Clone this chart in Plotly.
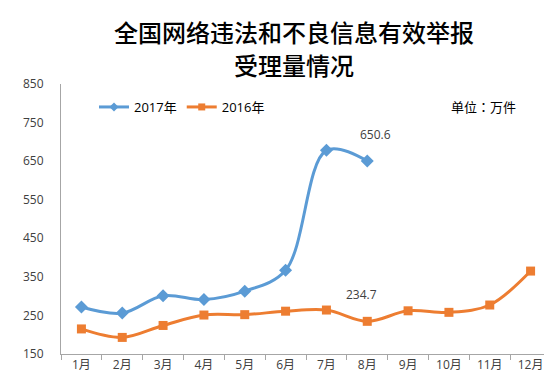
import plotly.graph_objects as go

months = ["1月", "2月", "3月", "4月", "5月", "6月", "7月", "8月", "9月", "10月", "11月", "12月"]
values_2017 = [272, 256, 301, 291, 313, 367, 678, 650.6]
values_2016 = [215, 193, 224, 251, 252, 261, 264, 234.7, 262, 258, 277, 365]
y_ticks = [150, 250, 350, 450, 550, 650, 750, 850]
title_lines = ["全国网络违法和不良信息有效举报", "受理量情况"]

BLUE = "#5B9BD5"
ORANGE = "#ED7D31"
CJK = "Open Sans, Noto Sans CJK SC, sans-serif"

fig = go.Figure()
fig.add_trace(go.Scatter(
    x=months[:len(values_2017)], y=values_2017, mode="lines+markers",
    line=dict(color=BLUE, width=3, shape="spline", smoothing=1.0),
    marker=dict(symbol="diamond", size=10, color=BLUE),
    showlegend=False, cliponaxis=False))
fig.add_trace(go.Scatter(
    x=months, y=values_2016, mode="lines+markers",
    line=dict(color=ORANGE, width=3, shape="spline", smoothing=1.0),
    marker=dict(symbol="square", size=9, color=ORANGE),
    showlegend=False, cliponaxis=False))
# legend entries
fig.add_trace(go.Scatter(x=[None], y=[None], mode="lines+markers", name="2017年",
                         line=dict(color=BLUE, width=3),
                         marker=dict(symbol="diamond", size=7, color=BLUE)))
fig.add_trace(go.Scatter(x=[None], y=[None], mode="lines+markers", name="2016年",
                         line=dict(color=ORANGE, width=3),
                         marker=dict(symbol="square", size=7, color=ORANGE)))

fig.add_annotation(x="8月", y=values_2017[7], text=str(values_2017[7]), showarrow=False,
                   xshift=8, yshift=26, font=dict(size=12, color="#404040", family=CJK))
fig.add_annotation(x="8月", y=values_2016[7], text=str(values_2016[7]), showarrow=False,
                   xshift=-6, yshift=27, font=dict(size=12, color="#404040", family=CJK))
fig.add_annotation(xref="paper", yref="paper", x=(475 - 53) / 490, y=(346 - 99) / 270,
                   text="单位：万件", showarrow=False, xanchor="center", yanchor="middle",
                   font=dict(size=13, color="#000000", family="Noto Sans CJK TC"))

# title as two centered lines
for line, ypix in zip(title_lines, [24, 57]):
    fig.add_annotation(xref="paper", yref="paper", x=(286 - 53) / 490, y=(346 - ypix) / 270,
                       text=line, showarrow=False, xanchor="center", yanchor="middle",
                       font=dict(size=24, color="#000000", family="Noto Sans CJK SC", weight=500))

fig.update_layout(
    width=552, height=391,
    margin=dict(l=53, r=9, t=76, b=45),
    paper_bgcolor="white", plot_bgcolor="white",
    font=dict(family=CJK, size=12, color="#404040"),
    legend=dict(orientation="h", x=(86 - 53) / 490, y=(346 - 99) / 270,
                xanchor="left", yanchor="middle", bgcolor="rgba(0,0,0,0)",
                font=dict(size=13, color="#000000", family=CJK),
                itemwidth=30, tracegroupgap=0),
    showlegend=True,
)
fig.update_xaxes(type="category", categoryorder="array", categoryarray=months,
                 range=[-0.5, 11.5], showgrid=False, showline=True, linecolor="#A6A6A6",
                 linewidth=1, ticks="outside", tickson="boundaries", ticklen=5,
                 tickcolor="#A6A6A6", zeroline=False, fixedrange=True,
                 tickfont=dict(size=12, color="#404040"))
fig.update_yaxes(range=[150, 850], tickvals=y_ticks, showgrid=False, showline=True,
                 linecolor="#A6A6A6", linewidth=1, ticks="", zeroline=False,
                 ticklabelstandoff=14, tickfont=dict(size=12, color="#404040"))

fig.write_html("out.html")
